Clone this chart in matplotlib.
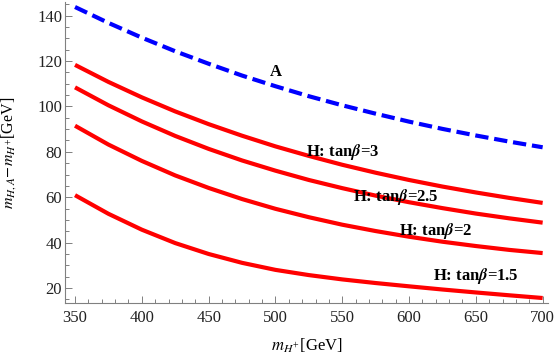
import numpy as np
import matplotlib
matplotlib.use("Agg")
import matplotlib.pyplot as plt
from matplotlib.ticker import MultipleLocator

plt.rcParams['font.family'] = ['Liberation Serif', 'DejaVu Serif']
plt.rcParams['mathtext.fontset'] = 'stix'

# charged Higgs mass grid (GeV)
m_hp = [350, 375, 400, 425, 450, 475, 500, 525, 550, 575, 600, 625, 650, 675, 700]

# mass splittings (GeV)
split_A = [143.8, 136.8, 130.3, 124.3, 118.8, 113.6, 108.9, 104.5, 100.5, 96.8,
           93.3, 90.1, 87.2, 84.5, 82.0]
split_H_tb3 = [118.3, 110.8, 104.0, 97.8, 92.2, 87.1, 82.4, 78.2, 74.3, 70.8,
               67.6, 64.7, 62.1, 59.7, 57.5]
split_H_tb25 = [108.4, 100.5, 93.4, 87.0, 81.3, 76.2, 71.7, 67.6, 64.0, 60.7,
                57.8, 55.2, 52.8, 50.7, 48.8]
split_H_tb2 = [91.5, 83.2, 76.0, 69.6, 64.1, 59.2, 54.9, 51.2, 47.9, 45.1,
               42.6, 40.4, 38.5, 36.8, 35.4]
split_H_tb15 = [60.9, 52.7, 45.7, 39.8, 35.0, 31.1, 28.0, 25.7, 23.8, 22.2,
                20.75, 19.35, 18.05, 16.8, 15.6]

h_curves = [split_H_tb3, split_H_tb25, split_H_tb2, split_H_tb15]

# curve labels: text, x, y
labels = [("A", 500, 115.2),
          (r"H: tan$\boldsymbol{\beta}$=3", 550, 80.0),
          (r"H: tan$\boldsymbol{\beta}$=2.5", 590, 60.0),
          (r"H: tan$\boldsymbol{\beta}$=2", 620, 45.0),
          (r"H: tan$\boldsymbol{\beta}$=1.5", 650, 25.2)]

fig = plt.figure(figsize=(5.56, 3.58), dpi=100)
ax = fig.add_axes([0.1169, 0.1536, 0.8687, 0.8408])

ax.plot(m_hp, split_A, color=(0, 0, 1), lw=3.0, dashes=(3.2, 1.4))
for vals in h_curves:
    ax.plot(m_hp, vals, color=(1, 0, 0), lw=3.0, solid_capstyle='butt')

for txt, x, y in labels:
    ax.text(x, y, txt, ha='center', va='center', fontsize=12, fontweight='bold')

ax.set_xlim(342.5, 704)
ax.set_ylim(13.4, 146)
ax.xaxis.set_major_locator(MultipleLocator(50))
ax.xaxis.set_minor_locator(MultipleLocator(10))
ax.yaxis.set_major_locator(MultipleLocator(20))
ax.yaxis.set_minor_locator(MultipleLocator(5))

for s in ['top', 'right']:
    ax.spines[s].set_visible(False)
for s in ['left', 'bottom']:
    ax.spines[s].set_color('#808080')
    ax.spines[s].set_linewidth(0.8)

ax.tick_params(which='both', direction='in', color='#808080', width=0.7,
               labelsize=12, labelcolor='#222222')
ax.tick_params(which='major', length=5)
ax.tick_params(which='minor', length=3)
ax.tick_params(axis='x', pad=5)
ax.tick_params(axis='y', pad=2)

ax.set_xlabel(r"$m_{H^{+}}$[GeV]", fontsize=12)
ax.set_ylabel(r"$m_{H,A}\!-\!m_{H^{+}}$[GeV]", fontsize=11.5)
ax.xaxis.set_label_coords(0.5, -0.113)
ax.yaxis.set_label_coords(-0.097, 0.5)

fig.savefig("out.png", dpi=100)
